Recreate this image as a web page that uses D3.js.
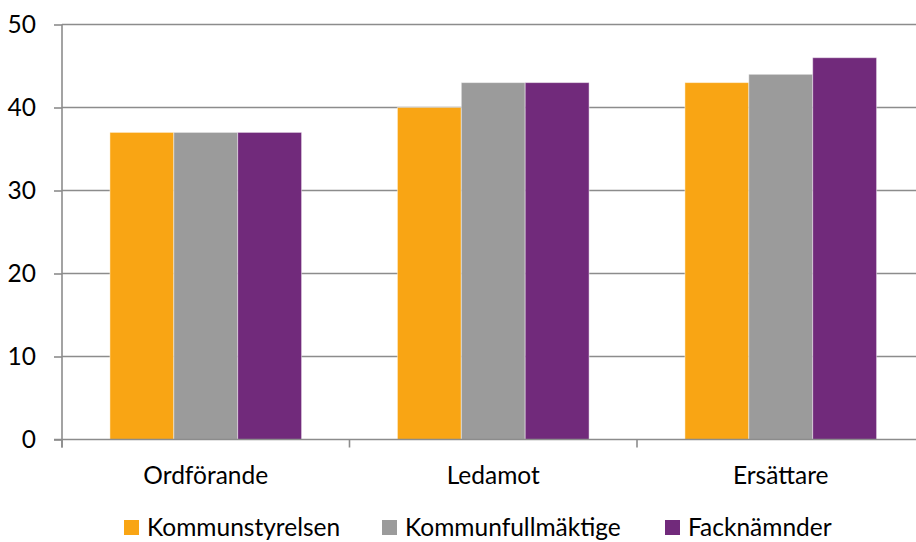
<!DOCTYPE html>
<html><head><meta charset="utf-8">
<script src="https://cdn.jsdelivr.net/npm/d3@7"></script>
<style>
html,body{margin:0;padding:0;background:#fff;overflow:hidden;}
svg{display:block;font-family:Lato,"Open Sans",sans-serif;}
</style></head>
<body>
<svg id="chart" width="916" height="542"></svg>
<script>
const categories = ["Ordförande", "Ledamot", "Ersättare"];
const seriesNames = ["Kommunstyrelsen", "Kommunfullmäktige", "Facknämnder"];
const kommunstyrelsen = [37, 40, 43];
const kommunfullmaktige = [37, 43, 44];
const facknamnder = [37, 43, 46];
const yTicks = [0, 10, 20, 30, 40, 50];
const colors = ["#F9A514", "#9B9B9B", "#712A7B"];

(function () {
const seriesValues = [kommunstyrelsen, kommunfullmaktige, facknamnder];
const svg = d3.select("#chart");
const pLeft = 62, pRight = 924.5, pTop = 24.5, pBottom = 439.5;
const fs = 24.5;

const y = d3.scaleLinear().domain([0, 50]).range([pBottom, pTop]);
const x0 = d3.scaleBand().domain(categories).range([pLeft, pRight]).padding(0);
const bw = x0.bandwidth();
const x1 = d3.scaleBand().domain(seriesNames).range([bw / 6, bw * 5 / 6]).padding(0);
const gridColor = "#8c8c8c";

svg.append("g").selectAll("line").data(yTicks.filter(d => d > 0)).join("line")
  .attr("x1", pLeft).attr("x2", pRight)
  .attr("y1", d => y(d)).attr("y2", d => y(d))
  .attr("stroke", gridColor).attr("stroke-width", 1.6);

const groups = svg.append("g").selectAll("g").data(categories).join("g")
  .attr("transform", c => `translate(${x0(c)},0)`);
groups.selectAll("rect").data((c, i) => seriesNames.map((s, j) => ({s, j, v: seriesValues[j][i]})))
  .join("rect")
  .attr("x", d => x1(d.s)).attr("width", x1.bandwidth())
  .attr("y", d => y(d.v)).attr("height", d => y(0) - y(d.v))
  .attr("fill", d => colors[d.j])
  .attr("stroke", "#fff").attr("stroke-opacity", 0.45).attr("stroke-width", 1);

const yAxis = d3.axisLeft(y).tickValues(yTicks).tickSize(8).tickPadding(18).tickFormat(d3.format("d"));
const gy = svg.append("g").attr("transform", `translate(${pLeft},0)`).call(yAxis);
gy.select(".domain").attr("stroke", gridColor).attr("stroke-width", 1.6).attr("d", `M0,${pBottom + 8}V${pTop}`);
gy.selectAll(".tick line").attr("stroke", gridColor).attr("stroke-width", 1.6);
gy.selectAll(".tick text").attr("font-size", fs).attr("fill", "#000").attr("font-family", "Lato");

const gx = svg.append("g").attr("transform", `translate(0,${pBottom})`);
gx.append("line").attr("x1", pLeft - 8).attr("x2", pRight).attr("y1", 0).attr("y2", 0)
  .attr("stroke", gridColor).attr("stroke-width", 1.6);
const boundaries = categories.map(c => x0(c)).concat([pRight]);
gx.selectAll("line.tk").data(boundaries).join("line").attr("class", "tk")
  .attr("x1", d => d).attr("x2", d => d).attr("y1", 0).attr("y2", 8)
  .attr("stroke", gridColor).attr("stroke-width", 1.6);
gx.selectAll("text").data(categories).join("text")
  .attr("x", c => x0(c) + bw / 2).attr("y", 44)
  .attr("text-anchor", "middle").attr("font-size", fs).attr("fill", "#000")
  .text(c => c);

const legendX = [124, 382, 665];
const lg = svg.append("g").selectAll("g").data(seriesNames).join("g")
  .attr("transform", (s, i) => `translate(${legendX[i]},0)`);
lg.append("rect").attr("x", 0).attr("y", 520).attr("width", 15).attr("height", 15)
  .attr("fill", (s, i) => colors[i]);
lg.append("text").attr("x", 23).attr("y", 536).attr("font-size", fs).attr("fill", "#000")
  .text(s => s);
})();
</script>
</body></html>
